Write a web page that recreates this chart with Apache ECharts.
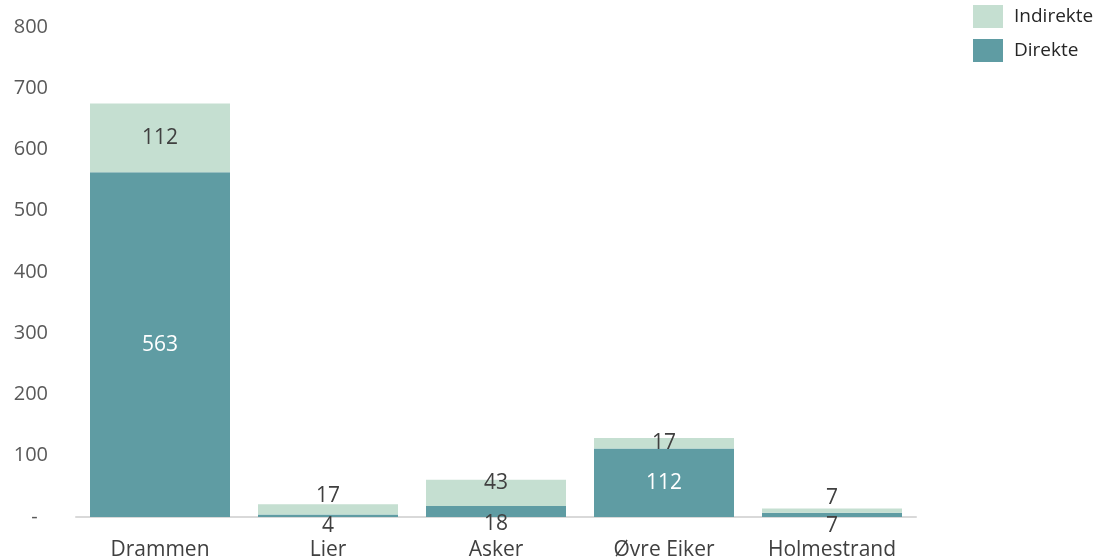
<!DOCTYPE html>
<html>
<head>
<meta charset="utf-8">
<script src="https://cdn.jsdelivr.net/npm/echarts@6/dist/echarts.min.js"></script>
<style>
html,body{margin:0;padding:0;background:#fff;}
#c{width:1103px;height:558px;}
</style>
</head>
<body>
<div id="c"></div>
<script>
var categories = ['Drammen', 'Lier', 'Asker', 'Øvre Eiker', 'Holmestrand'];
var direkte = [563, 4, 18, 112, 7];
var indirekte = [112, 17, 43, 17, 7];
var yTicks = { min: 0, max: 800, interval: 100 };

var FONT = 'Open Sans';
var dark = '#404040';

// label placement overrides for small segments
var direkteLabels = [
  null,
  { position: 'bottom', distance: -5, color: dark },
  { position: 'bottom', distance: -7, color: dark },
  null,
  { position: 'bottom', distance: -5, color: dark }
];
var indirekteLabels = [
  null,
  { position: 'top', distance: -2 },
  { position: 'top', distance: -14 },
  null,
  { position: 'top', distance: 0 }
];

function build(values, overrides) {
  return values.map(function (v, i) {
    var o = { value: v };
    if (overrides[i]) o.label = overrides[i];
    return o;
  });
}

var chart = echarts.init(document.getElementById('c'), null, { renderer: 'canvas' });
chart.setOption({
  animation: false,
  textStyle: { fontFamily: FONT },
  grid: { left: 76, right: 187, top: 27, bottom: 41, containLabel: false, outerBoundsMode: 'none' },
  legend: {
    orient: 'vertical',
    left: 973,
    top: 5,
    itemWidth: 30,
    itemHeight: 23,
    itemGap: 11,
    padding: 0,
    icon: 'rect',
    data: ['Indirekte', 'Direkte'],
    textStyle: { fontFamily: FONT, fontSize: 19, color: '#262626', padding: [2, 0, 0, 6] }
  },
  xAxis: {
    type: 'category',
    data: categories,
    axisLine: { lineStyle: { color: '#D9D9D9', width: 2 } },
    axisTick: { show: false },
    axisLabel: { fontFamily: FONT, fontSize: 21, color: dark, margin: 23 }
  },
  yAxis: {
    type: 'value',
    min: yTicks.min,
    max: yTicks.max,
    interval: yTicks.interval,
    axisLine: { show: false },
    axisTick: { show: false },
    splitLine: { show: false },
    axisLabel: {
      fontFamily: FONT, fontSize: 20, color: '#595959', margin: 28,
      formatter: function (v) { return v === 0 ? '-  ' : String(v); }
    }
  },
  series: [
    {
      name: 'Direkte',
      type: 'bar',
      stack: 'total',
      barWidth: 140,
      itemStyle: { color: '#5F9CA3' },
      label: { show: true, position: 'inside', padding: [4, 0, 0, 0], fontFamily: FONT, fontSize: 21, color: '#FFFFFF' },
      data: build(direkte, direkteLabels)
    },
    {
      name: 'Indirekte',
      type: 'bar',
      stack: 'total',
      barWidth: 140,
      itemStyle: { color: '#C5DFD1' },
      label: { show: true, position: 'inside', padding: [4, 0, 0, 0], fontFamily: FONT, fontSize: 21, color: dark },
      data: build(indirekte, indirekteLabels)
    }
  ]
});
</script>
</body>
</html>
